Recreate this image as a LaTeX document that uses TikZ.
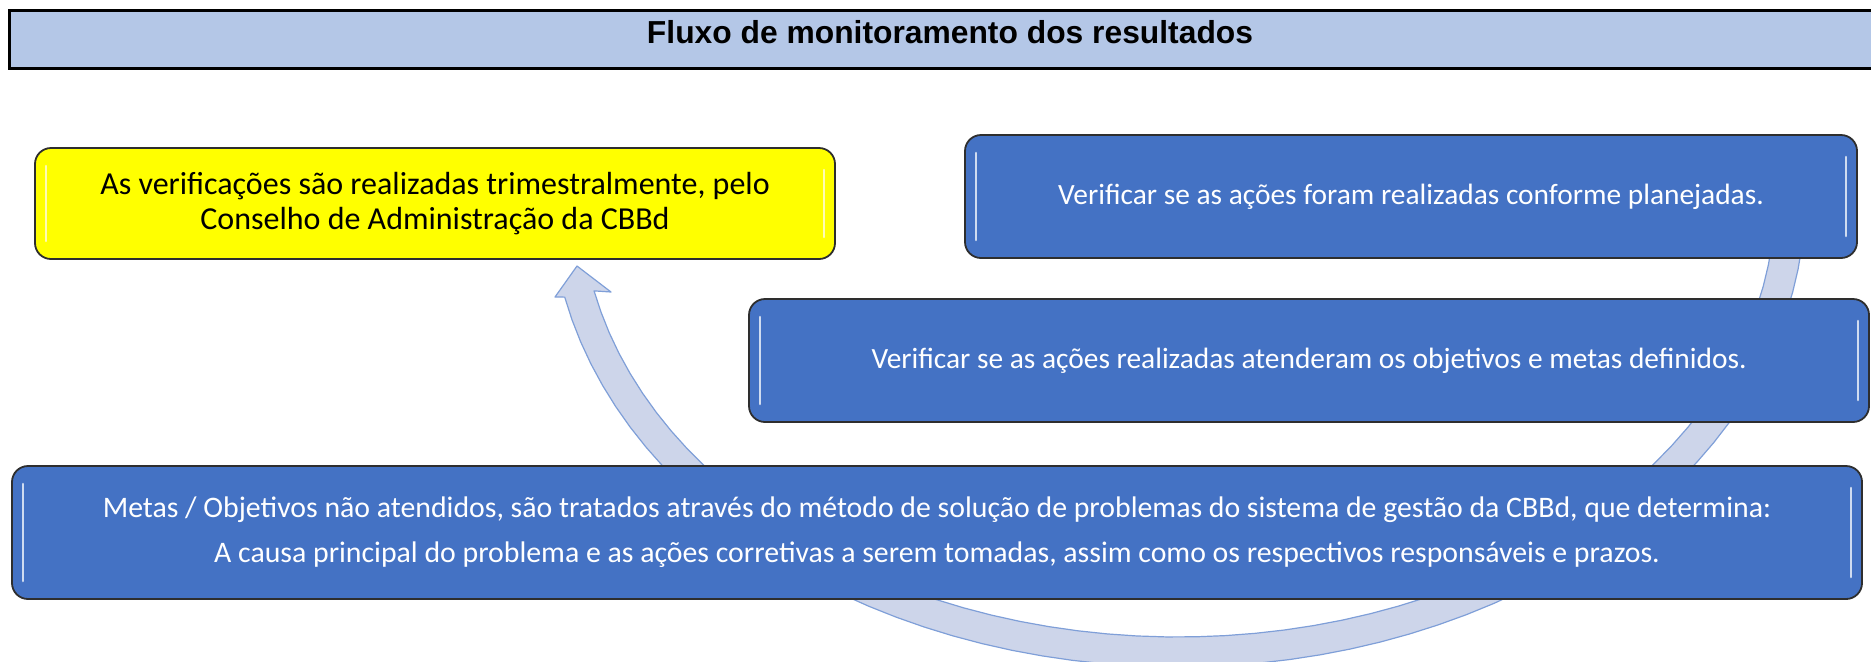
\documentclass[tikz,border=0pt]{standalone}
\usepackage{fontspec}
\setmainfont{Carlito}
\newfontfamily\titlefont{Liberation Sans}

\definecolor{azul}{HTML}{4472C4}
\definecolor{borda}{HTML}{2E2E2E}
\definecolor{amarelo}{HTML}{FFFF00}
\definecolor{titulobg}{HTML}{B4C7E7}
\definecolor{bandafill}{HTML}{CDD5EA}
\definecolor{bandaline}{HTML}{7F9FD8}

\tikzset{
  caixa/.style={draw=borda, line width=0.9pt, rounded corners=8pt, fill=azul,
    text=white, align=center, inner sep=0pt,
    font=\fontsize{14.7}{17}\selectfont},
  brilho/.style={path picture={
      \draw[#1, line width=1.3pt, line cap=round]
        ([xshift=5.5pt,yshift=-9pt]path picture bounding box.north west) --
        ([xshift=5.5pt,yshift=9pt]path picture bounding box.south west);
      \draw[#1, line width=1.3pt, line cap=round]
        ([xshift=-5.5pt,yshift=-11pt]path picture bounding box.north east) --
        ([xshift=-5.5pt,yshift=11pt]path picture bounding box.south east);
    }},
  banda/.style={fill=bandafill, draw=bandaline, line width=0.6pt, line join=round}
}

\begin{document}
\begin{tikzpicture}[x=0.5pt,y=-0.5pt]
  \useasboundingbox (0,0) rectangle (1871,661);

  % title bar, open on the right
  \node[fill=titulobg, minimum width=937.5pt, minimum height=28.5pt, inner sep=0pt] (barra) at (947.5,39.5) {};
  \draw[line width=1.4pt] (barra.north east) -- (barra.north west) -- (barra.south west) -- (barra.south east);
  \node[anchor=base, font=\titlefont\bfseries\fontsize{15.9}{18}\selectfont] (titulo) at (950,43.3) {Fluxo de monitoramento dos resultados};

  % curved arrow behind the boxes
  \draw[banda] plot[domain=0:168, samples=60] ({1178+627*cos(\x)},{200+467*sin(\x)})
    -- (555,297) -- (577,266) -- (611,292)
    -- plot[domain=168:0, samples=60] ({1178+597*cos(\x)},{200+437*sin(\x)}) -- cycle;

  \node[caixa, fill=amarelo, text=black, brilho=yellow!30, minimum width=400pt, minimum height=55.5pt,
    font=\fontsize{16}{17.5}\selectfont] (trimestral) at (435,203.5)
    {As verificações são realizadas trimestralmente, pelo\\ Conselho de Administração da CBBd};

  \node[caixa, brilho=azul!25, minimum width=446pt, minimum height=61.5pt] (conforme) at (1411,196.5)
    {Verificar se as ações foram realizadas conforme planejadas.};

  \node[caixa, brilho=azul!25, minimum width=560pt, minimum height=61.5pt] (metas) at (1309,360.5)
    {Verificar se as ações realizadas atenderam os objetivos e metas definidos.};

  \node[caixa, brilho=azul!25, minimum width=925pt, minimum height=66.5pt,
    font=\fontsize{14.9}{22.5}\selectfont] (tratamento) at (937,532.5)
    {Metas / Objetivos não atendidos, são tratados através do método de solução de problemas do sistema de gestão da CBBd, que determina:\\
     A causa principal do problema e as ações corretivas a serem tomadas, assim como os respectivos responsáveis e prazos.};
\end{tikzpicture}
\end{document}
